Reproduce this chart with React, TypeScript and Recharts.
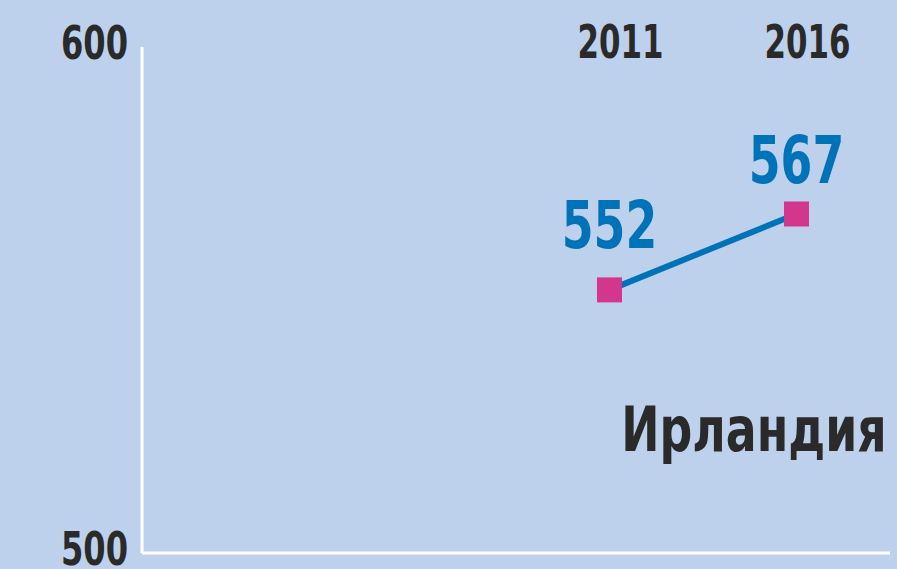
import { LineChart, Line, XAxis, YAxis, LabelList } from "recharts";

const years = [2011, 2016];
const scores = [552, 567];
const yTicks = [500, 600];
const country = "Ирландия";

const BG = "#bdd1ec";
const INK = "#2a2a2a";
const BLUE = "#0072b8";
const PINK = "#d3378b";
const FONT = '"DejaVu Sans Condensed", "DejaVu Sans", sans-serif';

const data = years.map((year, i) => ({ year, score: scores[i] }));

// label lift above each marker (the original sets them by hand)
const labelLift = [42, 31];

// condensed bold text: squeeze horizontally around the anchor point
function Cond({ x, y, sx, size, fill, anchor, children }: any) {
  return (
    <text
      transform={`translate(${x},${y}) scale(${sx},1)`}
      x={0}
      y={0}
      textAnchor={anchor}
      fill={fill}
      fontSize={size}
      fontWeight="bold"
      fontFamily={FONT}
    >
      {children}
    </text>
  );
}

function YTick(props: any) {
  const { y, payload } = props;
  return (
    <Cond x={128} y={y + 12} sx={0.76} size={47} fill={INK} anchor="end">
      {payload.value}
    </Cond>
  );
}

function YearTick(props: any) {
  const { x, y, payload } = props;
  return (
    <Cond x={x + 11} y={y + 11} sx={0.73} size={47} fill={INK} anchor="middle">
      {payload.value}
    </Cond>
  );
}

function SquareDot(props: any) {
  const { cx, cy } = props;
  if (cx == null || cy == null) return null;
  return <rect x={cx - 12.5} y={cy - 12.5} width={25} height={25} fill={PINK} />;
}

function ValueLabel(props: any) {
  const { x, y, value, index } = props;
  return (
    <Cond x={x} y={y - labelLift[index]} sx={0.77} size={66} fill={BLUE} anchor="middle">
      {value}
    </Cond>
  );
}

export default function App() {
  return (
    <div
      style={{
        position: "fixed",
        left: 0,
        top: 0,
        width: 897,
        height: 569,
        background: BG,
        overflow: "hidden",
      }}
    >
      <LineChart width={897} height={569} data={data} margin={{ top: 0, right: 7, bottom: 0, left: 0 }}>
        <XAxis
          xAxisId="top"
          orientation="top"
          dataKey="year"
          type="number"
          domain={[1998.5, 2018.5]}
          ticks={years}
          height={47}
          axisLine={false}
          tickLine={false}
          tickSize={0}
          tickMargin={0}
          tick={<YearTick />}
        />
        <XAxis
          xAxisId="bottom"
          dataKey="year"
          type="number"
          domain={[1998.5, 2018.5]}
          height={16}
          tick={false}
          tickLine={false}
          axisLine={{ stroke: "#ffffff", strokeWidth: 3 }}
        />
        <YAxis
          domain={[500, 600]}
          ticks={yTicks}
          width={142}
          tickLine={false}
          axisLine={{ stroke: "#ffffff", strokeWidth: 3 }}
          tick={<YTick />}
          interval={0}
        />
        <Line
          xAxisId="bottom"
          dataKey="score"
          stroke={BLUE}
          strokeWidth={6}
          dot={<SquareDot />}
          activeDot={false}
          isAnimationActive={false}
        >
          <LabelList dataKey="score" content={<ValueLabel />} />
        </Line>
      </LineChart>
      <div
        style={{
          position: "absolute",
          right: 10,
          top: 394,
          fontFamily: FONT,
          fontWeight: "bold",
          fontSize: 62,
          color: INK,
          lineHeight: "72px",
          whiteSpace: "nowrap",
          transform: "scaleX(0.82)",
          transformOrigin: "right center",
        }}
      >
        {country}
      </div>
    </div>
  );
}
